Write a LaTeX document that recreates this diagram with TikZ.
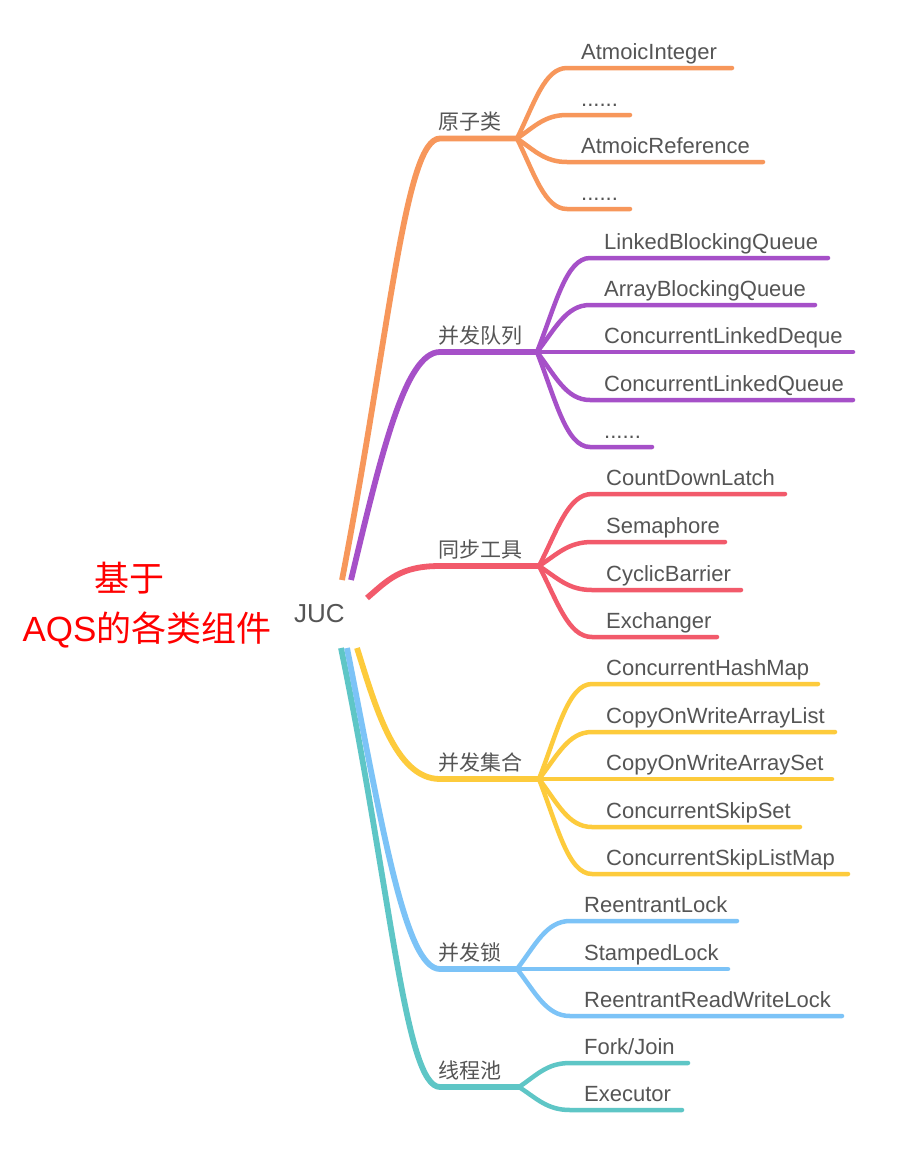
\documentclass[tikz,border=0pt]{standalone}
\usepackage{fontspec}
\setmainfont{Liberation Sans}
\newfontfamily\cjk{Noto Sans CJK SC}
\definecolor{cOr}{HTML}{F7975B}
\definecolor{cPu}{HTML}{A650C8}
\definecolor{cRe}{HTML}{F25A6B}
\definecolor{cYe}{HTML}{FDCB3C}
\definecolor{cBl}{HTML}{7CC3F7}
\definecolor{cTe}{HTML}{5EC6C6}
\definecolor{txtgray}{HTML}{555555}
\definecolor{lblred}{HTML}{FF0000}
% #1 colour, #2 hub name, #3 leaf id, #4 hx, #5 hy, #6 lx, #7 ly, #8 ex, #9 text
\newcommand\mmleaf[9]{%
  \pgfmathsetmacro\mmcax{#4+0.35*(#6-#4)}%
  \pgfmathsetmacro\mmcay{#5+0.5*(#7-#5)}%
  \pgfmathsetmacro\mmcbx{#4+0.55*(#6-#4)}%
  \pgfmathsetmacro\mmtx{#6+14}%
  \pgfmathsetmacro\mmty{#7-9}%
  \coordinate (a#3) at (#6,#7);
  \coordinate (e#3) at (#8,#7);
  \draw[leafline,#1] (#2) .. controls (\mmcax,\mmcay) and (\mmcbx,#7) .. (a#3) -- (e#3);
  \node[leaftext] (t#3) at (\mmtx,\mmty) {#9};
}
\begin{document}
\begin{tikzpicture}[x=1pt,y=-1pt,
  trunk/.style={line width=5.8pt, line cap=butt},
  leafline/.style={line width=4.5pt, line cap=round},
  leaftext/.style={anchor=base west, inner sep=0pt, text=txtgray, font=\fontsize{22}{26}\selectfont},
  cattext/.style={anchor=base west, inner sep=0pt, text=txtgray, font=\cjk\fontsize{21}{24}\selectfont},
  redtext/.style={anchor=base, inner sep=0pt, text=lblred, font=\fontsize{35}{40}\selectfont}]
\useasboundingbox (0,0) rectangle (916,1152);
\fill[white] (0,0) rectangle (916,1152);

% red label
\node[redtext] (lbl1) at (129,591) {\cjk 基于};
\node[redtext] (lbl2) at (147,641) {AQS{\cjk 的各类组件}};

% root
\node[anchor=base west, inner sep=0pt, text=txtgray, font=\fontsize{26}{30}\selectfont] (juc) at (294,622) {JUC};

% trunk start points, corners and hubs
\coordinate (s1) at (342,580); \coordinate (c1) at (440,138.5); \coordinate (h1) at (517,138.5);
\coordinate (s2) at (351,580); \coordinate (c2) at (440,352);   \coordinate (h2) at (537,352);
\coordinate (s3) at (367,598); \coordinate (c3) at (440,566);   \coordinate (h3) at (539,566);
\coordinate (s4) at (357,648); \coordinate (c4) at (440,779);   \coordinate (h4) at (539,779);
\coordinate (s5) at (347,648); \coordinate (c5) at (440,969);   \coordinate (h5) at (517,969);
\coordinate (s6) at (341,648); \coordinate (c6) at (440,1087);  \coordinate (h6) at (519,1087);

% trunks
\draw[trunk,cOr] (s1) .. controls (390,330) and (405,138.5) .. (c1) -- (h1);
\draw[trunk,cPu] (s2) .. controls (381,455) and (405,352) .. (c2) -- (h2);
\draw[trunk,cRe] (s3) .. controls (388,580) and (400,566) .. (c3) -- (h3);
\draw[trunk,cTe] (s6) .. controls (391,890) and (405,1087) .. (c6) -- (h6);
\draw[trunk,cBl] (s5) .. controls (382,825) and (405,969) .. (c5) -- (h5);
\draw[trunk,cYe] (s4) .. controls (375,705) and (395,779) .. (c4) -- (h4);

% category labels
\node[cattext] (n1) at (438,129) {原子类};
\node[cattext] (n2) at (438,343) {并发队列};
\node[cattext] (n3) at (438,557) {同步工具};
\node[cattext] (n4) at (438,770) {并发集合};
\node[cattext] (n5) at (438,960) {并发锁};
\node[cattext] (n6) at (438,1078) {线程池};

% leaves: orange
\mmleaf{cOr}{h1}{o1}{517}{138.5}{567}{68}{732}{AtmoicInteger}
\mmleaf{cOr}{h1}{o2}{517}{138.5}{567}{115}{630}{......}
\mmleaf{cOr}{h1}{o3}{517}{138.5}{567}{162}{763}{AtmoicReference}
\mmleaf{cOr}{h1}{o4}{517}{138.5}{567}{209}{630}{......}
% purple
\mmleaf{cPu}{h2}{p1}{537}{352}{590}{258}{828}{LinkedBlockingQueue}
\mmleaf{cPu}{h2}{p2}{537}{352}{590}{305}{815}{ArrayBlockingQueue}
\mmleaf{cPu}{h2}{p3}{537}{352}{590}{352}{853}{ConcurrentLinkedDeque}
\mmleaf{cPu}{h2}{p4}{537}{352}{590}{400}{853}{ConcurrentLinkedQueue}
\mmleaf{cPu}{h2}{p5}{537}{352}{590}{447}{652}{......}
% red
\mmleaf{cRe}{h3}{r1}{539}{566}{592}{494}{785}{CountDownLatch}
\mmleaf{cRe}{h3}{r2}{539}{566}{592}{542}{725}{Semaphore}
\mmleaf{cRe}{h3}{r3}{539}{566}{592}{590}{741}{CyclicBarrier}
\mmleaf{cRe}{h3}{r4}{539}{566}{592}{637}{717}{Exchanger}
% yellow
\mmleaf{cYe}{h4}{y1}{539}{779}{592}{684}{818}{ConcurrentHashMap}
\mmleaf{cYe}{h4}{y2}{539}{779}{592}{732}{835}{CopyOnWriteArrayList}
\mmleaf{cYe}{h4}{y3}{539}{779}{592}{779}{832}{CopyOnWriteArraySet}
\mmleaf{cYe}{h4}{y4}{539}{779}{592}{827}{800}{ConcurrentSkipSet}
\mmleaf{cYe}{h4}{y5}{539}{779}{592}{874}{848}{ConcurrentSkipListMap}
% blue
\mmleaf{cBl}{h5}{b1}{517}{969}{570}{921}{737}{ReentrantLock}
\mmleaf{cBl}{h5}{b2}{517}{969}{570}{969}{728}{StampedLock}
\mmleaf{cBl}{h5}{b3}{517}{969}{570}{1016}{842}{ReentrantReadWriteLock}
% teal
\mmleaf{cTe}{h6}{g1}{519}{1087}{570}{1063}{688}{Fork/Join}
\mmleaf{cTe}{h6}{g2}{519}{1087}{570}{1110}{682}{Executor}
\end{tikzpicture}
\end{document}
